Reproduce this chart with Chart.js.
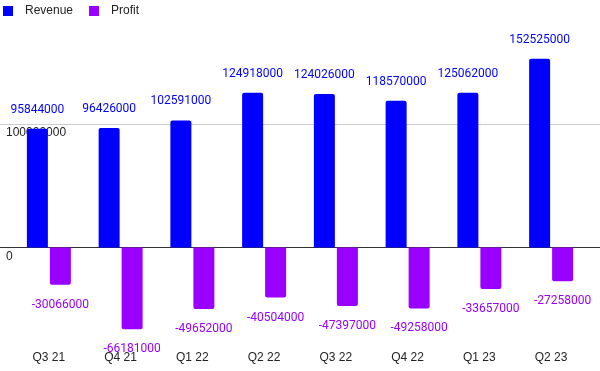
<!DOCTYPE html>
<html>
<head>
<meta charset="utf-8">
<script src="https://cdn.jsdelivr.net/npm/chart.js@4.4.1/dist/chart.umd.min.js"></script>
<style>
  html, body { margin: 0; padding: 0; background: #fff; }
  #wrap { width: 600px; height: 371px; }
</style>
</head>
<body>
<div id="wrap"><canvas id="chart"></canvas></div>
<script>
// Quarterly figures
const quarters = ['Q3 21', 'Q4 21', 'Q1 22', 'Q2 22', 'Q3 22', 'Q4 22', 'Q1 23', 'Q2 23'];
const revenue = [95844000, 96426000, 102591000, 124918000, 124026000, 118570000, 125062000, 152525000];
const profit = [-30066000, -66181000, -49652000, -40504000, -47397000, -49258000, -33657000, -27258000];
const yTicks = [0, 100000000];

const BLUE = '#0000ff';
const PURPLE = '#9900ff';

// horizontal grid lines running the full canvas width
const gridLines = {
  id: 'gridLines',
  beforeDatasetsDraw(chart) {
    const ctx = chart.ctx;
    const y = chart.scales.y;
    ctx.save();
    y.ticks.forEach(t => {
      const py = Math.round(y.getPixelForValue(t.value)) + 0.5;
      ctx.strokeStyle = t.value === 0 ? '#333333' : '#cccccc';
      ctx.lineWidth = 1;
      ctx.beginPath();
      ctx.moveTo(0, py);
      ctx.lineTo(chart.width, py);
      ctx.stroke();
    });
    ctx.restore();
  }
};

// value labels above / below each bar
const valueLabels = {
  id: 'valueLabels',
  afterDatasetsDraw(chart) {
    const ctx = chart.ctx;
    ctx.save();
    ctx.font = '12px Roboto';
    ctx.textAlign = 'center';
    ctx.textBaseline = 'middle';
    chart.data.datasets.forEach((ds, i) => {
      const meta = chart.getDatasetMeta(i);
      ctx.fillStyle = ds.backgroundColor;
      meta.data.forEach((bar, j) => {
        const v = ds.data[j];
        const y = v >= 0 ? bar.y - 19 : bar.y + 20;
        ctx.fillText(String(v), bar.x, y);
      });
    });
    ctx.restore();
  }
};

// simple legend at the top left
const topLegend = {
  id: 'topLegend',
  afterDraw(chart) {
    const ctx = chart.ctx;
    const boxX = [3, 89];
    ctx.save();
    ctx.font = '12px "Liberation Sans", Arial';
    ctx.textBaseline = 'middle';
    ctx.textAlign = 'left';
    chart.data.datasets.forEach((ds, i) => {
      ctx.fillStyle = ds.backgroundColor;
      ctx.fillRect(boxX[i], 6, 10, 10);
      ctx.fillStyle = '#222222';
      ctx.fillText(ds.label, boxX[i] + 22, 11);
    });
    ctx.restore();
  }
};

const chart = new Chart(document.getElementById('chart'), {
  type: 'bar',
  data: {
    labels: quarters,
    datasets: [
      { label: 'Revenue', data: revenue, backgroundColor: BLUE, borderRadius: 2 },
      { label: 'Profit', data: profit, backgroundColor: PURPLE, borderRadius: 2 }
    ]
  },
  options: {
    responsive: true,
    maintainAspectRatio: false,
    animation: false,
    categoryPercentage: 0.641,
    barPercentage: 0.913,
    layout: { padding: { top: 30, left: 13, right: 13, bottom: -2 } },
    plugins: {
      legend: { display: false },
      tooltip: { enabled: false }
    },
    scales: {
      x: {
        grid: { display: false, drawTicks: false },
        border: { display: false },
        ticks: {
          color: '#222222',
          padding: 8,
          font: { family: '"Liberation Sans", Arial', size: 12 }
        }
      },
      y: {
        z: 1, // tick labels sit on top of the bars
        min: -76900000,
        max: 175700000,
        afterBuildTicks(axis) {
          axis.ticks = yTicks.map(v => ({ value: v }));
        },
        grid: { display: false, drawTicks: false },
        border: { display: false },
        ticks: {
          mirror: true,
          // negative padding also shrinks the axis box, so this lands labels at x~6
          padding: -2.33,
          labelOffset: 9,
          color: '#222222',
          font: { family: '"Liberation Sans", Arial', size: 12 },
          callback: v => String(v)
        }
      }
    }
  },
  plugins: [gridLines, valueLabels, topLegend]
});
</script>
</body>
</html>
